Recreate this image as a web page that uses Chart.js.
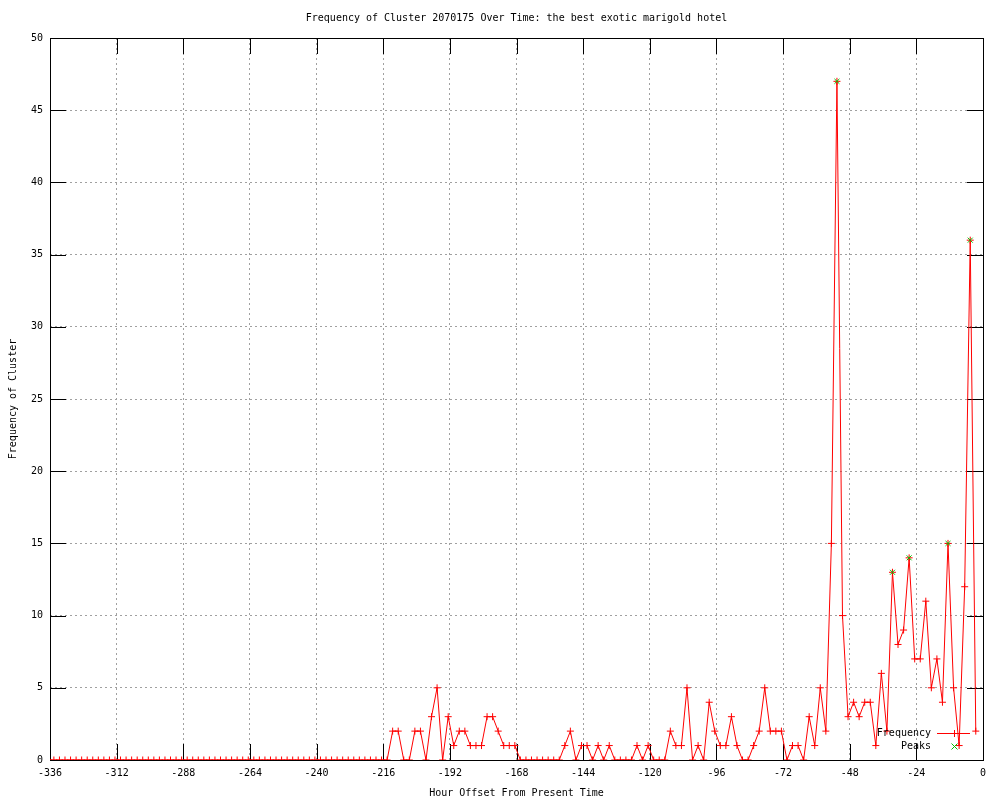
<!DOCTYPE html>
<html>
<head>
<meta charset="utf-8">
<title>Frequency of Cluster 2070175 Over Time</title>
<script src="https://cdn.jsdelivr.net/npm/chart.js@4.4.0/dist/chart.umd.min.js"></script>
<style>
  html, body { margin: 0; padding: 0; background: #ffffff; }
  canvas { display: block; }
</style>
</head>
<body>
<canvas id="freqChart" width="1000" height="800"></canvas>
<script>
"use strict";

const chartTitle = "Frequency of Cluster 2070175 Over Time: the best exotic marigold hotel";
const xTitle = "Hour Offset From Present Time";
const yTitle = "Frequency of Cluster";

// one sample every 2 hours, first one sits just left of -336
const firstHour = -336.6;
const hourStep = 2;

// frequency per sample (168 samples)
const frequency = [
    0, 0, 0, 0, 0, 0, 0, 0, 0, 0,
    0, 0, 0, 0, 0, 0, 0, 0, 0, 0,
    0, 0, 0, 0, 0, 0, 0, 0, 0, 0,
    0, 0, 0, 0, 0, 0, 0, 0, 0, 0,
    0, 0, 0, 0, 0, 0, 0, 0, 0, 0,
    0, 0, 0, 0, 0, 0, 0, 0, 0, 0,
    0, 0, 2, 2, 0, 0, 2, 2, 0, 3,
    5, 0, 3, 1, 2, 2, 1, 1, 1, 3,
    3, 2, 1, 1, 1, 0, 0, 0, 0, 0,
    0, 0, 0, 1, 2, 0, 1, 1, 0, 1,
    0, 1, 0, 0, 0, 0, 1, 0, 1, 0,
    0, 0, 2, 1, 1, 5, 0, 1, 0, 4,
    2, 1, 1, 3, 1, 0, 0, 1, 2, 5,
    2, 2, 2, 0, 1, 1, 0, 3, 1, 5,
    2, 15, 47, 10, 3, 4, 3, 4, 4, 1,
    6, 2, 13, 8, 9, 14, 7, 7, 11, 5,
    7, 4, 15, 5, 1, 12, 36, 2
];

// detected peaks
const peakHours = [-52.6, -32.6, -26.6, -12.6, -4.6];
const peakValues = [47, 13, 14, 15, 36];

// axis ranges / tick steps
const xMin = -336, xMax = 0, xStep = 24;
const yMin = 0, yMax = 50, yStep = 5;

const legendLabels = ["Frequency", "Peaks"];
const freqColor = '#ff0000';
const peakColor = '#00c000';

const monoFont = "'DejaVu Sans Mono', 'Liberation Mono', monospace";

let freqPoints = [];
for (let i = 0; i < frequency.length; i++) {
    freqPoints.push({ x: firstHour + i * hourStep, y: frequency[i] });
}
let peakPoints = [];
for (let i = 0; i < peakHours.length; i++) {
    peakPoints.push({ x: peakHours[i], y: peakValues[i] });
}

// frame, inward tick marks, title and key like the gnuplot original
const gnuplotBits = {
    id: 'gnuplotBits',
    beforeDatasetsDraw(chart) {
        const ctx = chart.ctx;
        const a = chart.chartArea;
        const tickLen = 16;
        ctx.save();
        ctx.strokeStyle = '#000000';
        ctx.lineWidth = 1;
        ctx.setLineDash([]);
        ctx.beginPath();
        chart.scales.x.ticks.forEach(t => {
            const px = Math.round(chart.scales.x.getPixelForValue(t.value)) + 0.5;
            ctx.moveTo(px, a.bottom);
            ctx.lineTo(px, a.bottom - tickLen);
            ctx.moveTo(px, a.top);
            ctx.lineTo(px, a.top + tickLen);
        });
        chart.scales.y.ticks.forEach(t => {
            const py = Math.round(chart.scales.y.getPixelForValue(t.value)) + 0.5;
            ctx.moveTo(a.left, py);
            ctx.lineTo(a.left + tickLen, py);
            ctx.moveTo(a.right, py);
            ctx.lineTo(a.right - tickLen, py);
        });
        ctx.stroke();
        ctx.strokeRect(Math.round(a.left) + 0.5, Math.round(a.top) + 0.5,
            Math.round(a.right - a.left), Math.round(a.bottom - a.top));
        ctx.restore();
    },
    afterDraw(chart) {
        const ctx = chart.ctx;
        const a = chart.chartArea;
        ctx.save();
        ctx.setLineDash([]);
        ctx.font = '10px ' + monoFont;
        ctx.fillStyle = '#000000';
        ctx.textAlign = 'center';
        ctx.textBaseline = 'middle';
        ctx.fillText(chartTitle, (a.left + a.right) / 2, 18);

        // key, bottom right inside the plot
        const textRight = a.right - 52;
        const sampleLeft = a.right - 46;
        const sampleRight = a.right - 13;
        const mid = Math.round((sampleLeft + sampleRight) / 2) + 0.5;
        const row1 = a.bottom - 27 + 0.5;
        const row2 = a.bottom - 14 + 0.5;
        const r = 3.5;
        ctx.textAlign = 'right';
        ctx.fillText(legendLabels[0], textRight, row1);
        ctx.fillText(legendLabels[1], textRight, row2);

        ctx.lineWidth = 1;
        ctx.strokeStyle = freqColor;
        ctx.beginPath();
        ctx.moveTo(sampleLeft, row1);
        ctx.lineTo(sampleRight, row1);
        ctx.moveTo(mid, row1 - r);
        ctx.lineTo(mid, row1 + r);
        ctx.stroke();

        ctx.strokeStyle = peakColor;
        ctx.beginPath();
        ctx.moveTo(mid - 3, row2 - 3);
        ctx.lineTo(mid + 3, row2 + 3);
        ctx.moveTo(mid - 3, row2 + 3);
        ctx.lineTo(mid + 3, row2 - 3);
        ctx.stroke();
        ctx.restore();
    }
};

const config = {
    type: 'line',
    data: {
        datasets: [{
            label: legendLabels[0],
            data: freqPoints,
            borderColor: freqColor,
            backgroundColor: freqColor,
            borderWidth: 1,
            pointStyle: 'cross',
            pointRadius: 3.5,
            pointBorderColor: freqColor,
            pointBorderWidth: 1,
            pointHoverRadius: 3.5,
            tension: 0,
            fill: false,
            order: 1
        }, {
            label: legendLabels[1],
            data: peakPoints,
            showLine: false,
            borderColor: peakColor,
            backgroundColor: peakColor,
            pointStyle: 'crossRot',
            pointRadius: 3.5,
            pointBorderColor: peakColor,
            pointBorderWidth: 1,
            pointHoverRadius: 3.5,
            order: 0
        }]
    },
    options: {
        responsive: false,
        animation: false,
        devicePixelRatio: 1,
        layout: { padding: { top: 38, right: 17, left: 0, bottom: 0 } },
        plugins: {
            legend: { display: false },
            title: { display: false },
            tooltip: { enabled: false }
        },
        scales: {
            x: {
                type: 'linear',
                min: xMin,
                max: xMax,
                afterFit(scale) { scale.height = 40; },
                ticks: {
                    stepSize: xStep,
                    color: '#000000',
                    padding: 7,
                    maxRotation: 0,
                    autoSkip: false,
                    font: { family: monoFont, size: 10 }
                },
                grid: { color: '#a0a0a0', lineWidth: 1, drawTicks: false },
                border: { display: false, dash: [2, 3] },
                title: {
                    display: true,
                    text: xTitle,
                    color: '#000000',
                    padding: { top: 0, bottom: 1 },
                    font: { family: monoFont, size: 10 }
                }
            },
            y: {
                min: yMin,
                max: yMax,
                afterFit(scale) { scale.width = 50; },
                ticks: {
                    stepSize: yStep,
                    color: '#000000',
                    padding: 7,
                    font: { family: monoFont, size: 10 }
                },
                grid: { color: '#a0a0a0', lineWidth: 1, drawTicks: false },
                border: { display: false, dash: [2, 3] },
                title: {
                    display: true,
                    text: yTitle,
                    color: '#000000',
                    padding: { top: 7, bottom: 0 },
                    font: { family: monoFont, size: 10 }
                }
            }
        }
    },
    plugins: [gnuplotBits]
};

const myChart = new Chart(document.getElementById('freqChart'), config);
</script>
</body>
</html>
